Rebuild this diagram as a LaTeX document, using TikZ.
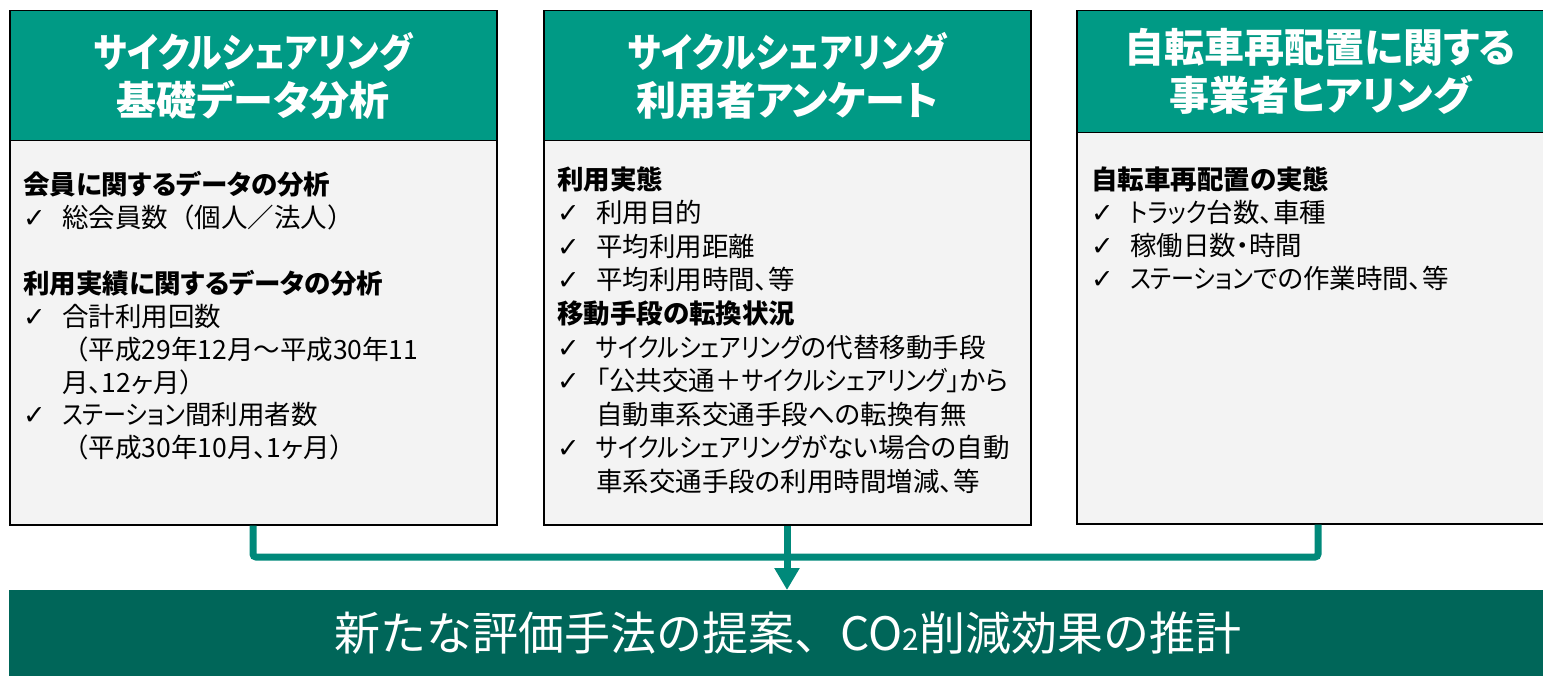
\documentclass[tikz,border=0pt]{standalone}
\usepackage{fontspec}
\usetikzlibrary{arrows.meta}
\newfontfamily\jp[RawFeature=+palt]{Noto Sans CJK JP}
\newfontfamily\jpk[RawFeature=+palt, FakeStretch=0.87]{Noto Sans CJK JP}
\newfontfamily\jpf{Noto Sans CJK JP}
\newfontfamily\sym{DejaVu Sans}
\definecolor{hdr}{HTML}{009A85}
\definecolor{barc}{HTML}{006659}
\definecolor{conn}{HTML}{00897A}
\definecolor{bodyfill}{HTML}{F3F3F3}
\newcommand{\ck}{\makebox[39pt][l]{\sym\fontsize{27}{27}\selectfont ✓}}
\newcommand{\ind}{\hspace*{39pt}}
\newcommand{\kt}[1]{{\jpk #1}}
\newcommand{\fw}[1]{{\jpf #1}}
\tikzset{
  hdrbox/.style={draw=black, line width=1.5pt, fill=hdr, anchor=north west, minimum width=487pt,
    align=center, text=white, font=\jp\bfseries\fontsize{40}{48}\selectfont, inner sep=0pt},
  bodybox/.style={draw=black, line width=1.5pt, fill=bodyfill, anchor=north west, minimum width=487pt, inner sep=0pt},
  bodytext/.style={anchor=north west, align=left, inner sep=0pt, text=black},
  connline/.style={draw=conn, line width=7pt},
}
\begin{document}
\begin{tikzpicture}[x=1pt,y=-1pt]
\useasboundingbox (0,0) rectangle (1543,676);
\clip (0,0) rectangle (1543,676);
% boxes
\node[bodybox, minimum height=384pt] (b1) at (9,140) {};
\node[hdrbox, minimum height=130pt] (h1) at (9,10) {\kt{サイクルシェアリング}\\基礎データ分析};
\node[bodybox, minimum height=384pt] (b2) at (543,140) {};
\node[hdrbox, minimum height=130pt] (h2) at (543,10) {\kt{サイクルシェアリング}\\利用者アンケート};
\node[bodybox, minimum height=391pt] (b3) at (1076,132) {};
\node[hdrbox, minimum height=122pt] (h3) at (1076,10) {自転車再配置に関する\\事業者ヒアリング};
% body texts
\node[bodytext, font=\jp\fontsize{26.5}{32.7}\selectfont] (t1) at (23,171) {%
{\bfseries 会員に関するデータの分析}\\
\ck 総会員数\fw{（}個人\fw{／}法人\fw{）}\\
\strut\\
{\bfseries 利用実績に関するデータの分析}\\
\ck 合計利用回数\\
\ind\fw{（}平成29年12月～平成30年11\\
\ind 月、12ヶ月\fw{）}\\
\ck \kt{ステーション}間利用者数\\
\ind\fw{（}平成30年10月、1ヶ月\fw{）}};
\node[bodytext, font=\jp\fontsize{26.5}{33.6}\selectfont] (t2) at (557,166) {%
{\bfseries 利用実態}\\
\ck 利用目的\\
\ck 平均利用距離\\
\ck 平均利用時間、等\\
{\bfseries 移動手段の転換状況}\\
\ck \kt{サイクルシェアリング}の代替移動手段\\
\ck 「公共交通＋\kt{サイクルシェアリング}」から\\
\ind 自動車系交通手段への転換有無\\
\ck \kt{サイクルシェアリング}がない場合の自動\\
\ind 車系交通手段の利用時間増減、等};
\node[bodytext, font=\jp\fontsize{26.5}{33.3}\selectfont] (t3) at (1091,166) {%
{\bfseries 自転車再配置の実態}\\
\ck \kt{トラック}台数、車種\\
\ck 稼働日数・時間\\
\ck \kt{ステーション}での作業時間、等};
% bottom bar
\node[fill=barc, anchor=north west, minimum width=1560pt, minimum height=100pt, inner sep=0pt] (bar) at (9,590) {};
\node[text=white, font=\jpf\fontsize{46}{50}\selectfont, inner sep=0pt] (title) at (788,633)
  {新たな評価手法の提案、CO{\fontsize{30}{30}\selectfont 2}削減効果の推計};
% connectors
\coordinate (c1) at (253,557);
\coordinate (c2) at (787,557);
\coordinate (c3) at (1318,557);
\draw[connline, rounded corners=3pt] (b1.south -| c1) -- (c1) -- (c3) -- (b3.south -| c3);
\draw[connline, -{Triangle[length=22pt,width=24pt]}] (b2.south -| c2) -- (bar.north -| c2);
\end{tikzpicture}
\end{document}
